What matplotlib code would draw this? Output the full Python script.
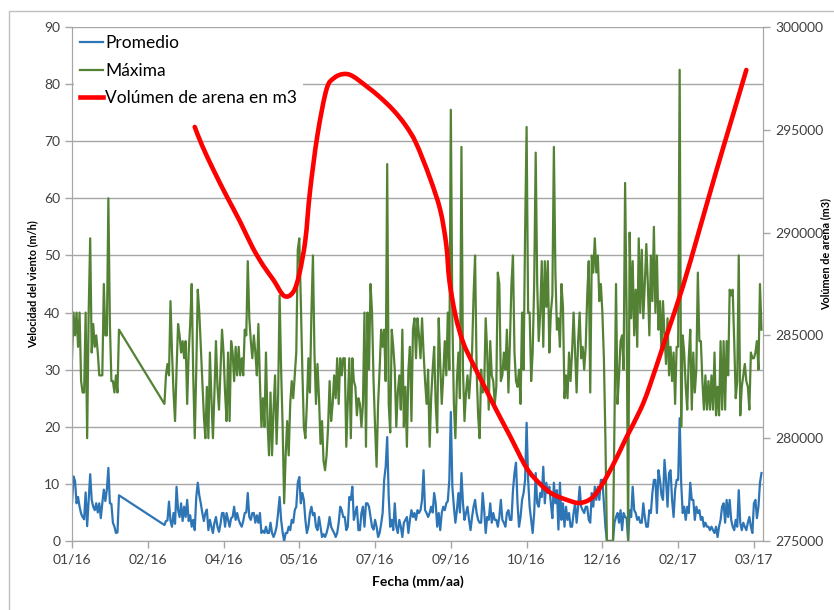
import matplotlib
matplotlib.use("Agg")
import matplotlib.pyplot as plt
import matplotlib.dates as mdates
from matplotlib.patches import Rectangle, PathPatch
from matplotlib.path import Path
from matplotlib.lines import Line2D
import numpy as np
import pandas as pd

plt.rcParams['font.family'] = ['Lato', 'DejaVu Sans']

inicio = pd.Timestamp('2016-01-01')

# days since 2016-01-01 with measurements (gap in February)
dias_1 = np.arange(0, 32)
dias_2 = np.arange(61, 456)

promedio_1 = [6.6, 11.3, 10.5, 6.6, 7.7, 6.0, 4.8, 4.2, 3.8, 8.5, 2.6, 7.0, 11.7, 7.2, 6.0, 5.4,
              6.6, 5.0, 6.6, 4.0, 6.6, 9.0, 7.0, 9.0, 12.8, 6.6, 6.5, 3.2, 2.5, 1.4, 1.5, 8.0]
maxima_1 = [32, 40, 36, 40, 34, 40, 28, 26, 26, 40, 18, 40, 53, 33, 38, 34,
            36, 33, 29, 29, 29, 45, 36, 36, 60, 38, 28, 28, 26, 29, 26, 37]

promedio_2 = (
    [2.8, 3.5, 3.6, 6.9, 3.5, 2.5, 4.9, 3.0, 9.5] +
    [5.4, 4.2, 6.6, 3.5, 6.0, 4.2, 7.2, 3.5, 4.5, 2.5] +
    [3.7, 1.9, 7.7, 10.2, 8.0, 6.6, 4.9, 3.5, 4.9, 5.5] +
    [1.9, 3.7, 2.5, 1.4, 3.2, 4.2, 2.5, 1.6, 3.0, 4.9] +
    [4.9, 2.5, 4.9, 3.7, 2.5, 4.0, 4.2, 6.0, 3.7, 4.9] +
    [3.7, 3.0, 2.5, 3.5, 4.9, 5.0, 8.4, 4.2, 3.7, 4.9] +
    [4.9, 3.2, 4.5, 3.2, 4.9, 1.4, 1.8, 1.4, 2.5, 1.4] +
    [1.4, 3.2, 1.4, 0.7, 1.4, 2.5, 4.9, 7.7, 3.7, 1.5] +
    [0.0, 1.4, 1.4, 2.5, 1.9, 3.7, 3.2, 5.4, 6.0, 10.2] +
    [11.2, 6.6, 8.4, 7.2, 3.7, 1.4, 2.5, 4.9, 6.0, 4.5] +
    [4.9, 2.5, 1.9, 4.2, 2.5, 0.7, 1.2, 0.7, 1.4, 2.5] +
    [4.2, 2.5, 1.9, 1.4, 0.7, 1.4, 3.2, 6.0, 5.4, 4.2] +
    [4.2, 1.9, 2.5, 7.7, 7.2, 9.5, 3.7, 4.9, 6.0, 1.9] +
    [1.9, 4.9, 6.0, 2.5, 6.6, 6.6, 6.0, 4.2, 2.5, 2.0] +
    [3.7, 2.5, 0.7, 1.4, 3.0, 4.9, 10.7, 13.0, 18.2, 7.7] +
    [2.5, 3.7, 1.9, 6.6, 2.5, 1.4, 3.7, 2.5, 0.7, 3.2] +
    [3.7, 4.2, 1.4, 3.7, 5.4, 4.2, 4.9, 3.7, 5.4, 4.9] +
    [5.4, 7.2, 12.4, 5.4, 4.9, 4.2, 4.9, 6.0, 5.0, 8.4] +
    [6.6, 2.5, 4.9, 1.9, 4.9, 6.0, 5.4, 6.6, 7.0, 10.7] +
    [22.6, 9.5, 6.0, 3.2, 5.4, 8.4, 5.0, 11.9, 6.6, 3.7] +
    [4.9, 6.0, 3.7, 1.9, 4.2, 6.0, 7.2, 4.9, 3.7, 3.2] +
    [3.2, 8.4, 5.4, 1.4, 4.2, 3.7, 6.6, 3.2, 4.9, 3.7] +
    [3.7, 2.5, 4.2, 7.2, 3.7, 3.2, 2.5, 4.9, 5.4, 3.7] +
    [3.7, 8.9, 11.9, 13.7, 6.6, 2.5, 4.2, 7.2, 8.4, 10.7] +
    [20.7, 10.7, 6.0, 3.7, 1.4, 4.9, 11.9, 6.6, 6.0, 8.4] +
    [7.7, 13.0, 6.6, 10.2, 8.4, 9.5, 6.6, 4.0, 10.2, 6.6] +
    [8.9, 2.0, 10.2, 3.7, 6.6, 2.5, 6.0, 3.7, 4.9, 2.5] +
    [2.5, 4.9, 6.6, 3.2, 6.0, 9.5, 6.0, 5.4, 4.9, 6.0] +
    [6.0, 3.7, 3.2, 8.4, 6.0, 9.5, 7.2, 9.5, 7.2, 10.7] +
    [10.7, 6.6, 2.5, 0.0, 0.0, 0.0, 0.0, 0.0, 3.2, 4.2] +
    [4.9, 3.2, 5.4, 1.9, 4.9, 4.2, 4.0, 0.0, 5.4, 4.2] +
    [9.5, 5.4, 4.9, 3.7, 4.2, 3.2, 3.2, 6.6, 4.2, 2.5] +
    [2.5, 5.4, 4.9, 8.4, 10.7, 10.7, 4.9, 12.4, 10.7, 8.0] +
    [7.2, 14.2, 10.7, 6.0, 11.9, 12.4, 7.2, 4.2, 8.9, 10.7] +
    [10.7, 21.5, 10.2, 4.9, 6.0, 3.7, 6.0, 4.9, 10.2, 7.2] +
    [7.2, 3.7, 6.0, 4.9, 5.4, 3.7, 4.2, 2.5, 3.2, 2.5] +
    [2.5, 1.9, 2.5, 1.9, 1.4, 2.5, 0.7, 2.5, 3.7, 6.0] +
    [6.6, 3.2, 7.2, 4.2, 7.2, 3.7, 2.5, 1.9, 3.7, 2.5] +
    [8.9, 3.2, 1.9, 3.2, 2.5, 1.9, 3.2, 4.2, 2.5, 1.4] +
    [6.6, 7.2, 4.0, 6.0, 10.2, 11.9]
)

maxima_2 = (
    [24, 29, 31, 29, 42, 33, 26, 21, 30] +
    [38, 36, 33, 35, 32, 35, 24, 33, 38, 45] +
    [29, 18, 30, 44, 40, 34, 28, 22, 18, 27] +
    [18, 33, 25, 18, 26, 35, 27, 23, 30, 37] +
    [33, 26, 21, 33, 21, 35, 33, 28, 34, 29] +
    [34, 29, 32, 29, 37, 36, 49, 39, 35, 32] +
    [36, 33, 29, 38, 28, 20, 25, 20, 33, 21] +
    [15, 26, 15, 23, 29, 17, 25, 43, 30, 20] +
    [6.6, 15, 21, 15, 24, 28, 25, 29, 33, 51] +
    [53, 42, 30, 20, 18, 24, 32, 26, 40, 50] +
    [33, 24, 31, 25, 17, 21, 14, 12.4, 15, 20] +
    [28, 21, 24, 29, 25, 32, 24, 32, 29, 32] +
    [32, 16.5, 24, 32, 18, 32, 28, 27, 22, 25] +
    [24, 20, 24, 40, 16.5, 40, 30, 45, 40, 28] +
    [20, 13, 24, 30, 37, 34, 37, 28, 66, 24] +
    [19, 37, 34, 30, 20, 26, 29, 23, 37, 20] +
    [27, 16.5, 30, 34, 21, 37, 39, 32, 39, 36] +
    [32, 39, 33, 28, 24, 30, 16.5, 25, 30, 34] +
    [24, 19, 39, 31, 24, 29, 35, 29, 40, 30] +
    [75.5, 39, 24, 18, 28, 33, 25, 69, 30, 21] +
    [26, 29, 25, 29, 33, 43, 50, 30, 22, 18] +
    [30, 26, 27, 39, 33, 23, 35, 29, 28, 24] +
    [27, 47, 45, 28, 29, 33, 30, 37, 26, 35] +
    [45, 50, 33, 28, 27, 30, 24, 40, 30, 54] +
    [72.5, 40, 40, 28, 33, 45, 68, 45, 35, 40] +
    [49, 34, 49, 41, 49, 33, 40, 43, 69, 47] +
    [37, 39, 34, 45, 41, 25, 29, 25, 33, 28] +
    [33, 40, 33, 26, 35, 40, 32, 34, 30, 34] +
    [43, 49, 26, 50, 47, 53, 47, 50, 42, 45] +
    [40, 32, 18, 0, 0, 0, 0, 0, 21, 45] +
    [24, 29, 35, 36, 30, 62.7, 40, 0, 54, 39] +
    [49, 36, 44, 34, 53, 40, 51, 39, 45, 52] +
    [45, 36, 50, 42, 55, 40, 50, 37, 42, 33] +
    [42, 36, 31, 39, 29, 34, 28, 33, 24, 34] +
    [34, 82.5, 20, 36, 33, 27, 23, 32, 37, 23] +
    [33, 26, 30, 47, 35, 35, 28, 23, 29, 23] +
    [28, 23, 29, 23, 33, 22, 27, 22, 35, 23] +
    [35, 23, 35, 29, 44, 43, 44, 35, 25, 28] +
    [50, 22, 27, 29, 31, 28, 27, 23, 33, 32] +
    [32, 33, 35, 30, 45, 37]
)

# sand volume curve (m3)
dias_arena = [81, 86, 94, 102, 111, 119, 126, 133, 140, 146, 150, 154, 157, 162, 168, 173,
              179, 185, 195, 203, 212, 220, 227, 236, 243, 247, 249, 253, 258, 264, 272, 280,
              289, 300, 309, 317, 327, 335, 343, 350, 358, 366, 375, 381, 392, 403, 414, 425,
              435, 445]
volumen_arena = [295140, 294210, 292950, 291780, 290520, 289300, 288420, 287690, 286920,
                 287110, 287990, 289640, 291970, 294750, 296980, 297520, 297710, 297620,
                 297080, 296600, 295960, 295230, 294360, 292700, 291100, 289400, 287690,
                 285990, 284680, 283710, 282540, 281370, 280110, 278550, 277770, 277290,
                 276990, 276850, 277090, 277770, 278840, 280060, 281370, 282490, 284920,
                 287350, 290130, 292950, 295430, 297910]

dias = np.concatenate([dias_1, dias_2])
fechas = inicio + pd.to_timedelta(dias, unit='D')
promedio = promedio_1 + promedio_2
maxima = maxima_1 + maxima_2
fechas_arena = inicio + pd.to_timedelta(dias_arena, unit='D')

azul = '#2e75b6'
verde = '#548235'
rojo = '#ff0000'
gris = '#a6a6a6'
texto = '#404040'


def linea_suavizada(x, y):
    # smoothed line like Excel's: cubic Bezier segments through every point
    p = np.column_stack([x, y])
    n = len(p)
    verts = [p[0]]
    codes = [Path.MOVETO]
    for i in range(n - 1):
        a = p[max(i - 1, 0)]
        b = p[i]
        c = p[i + 1]
        d = p[min(i + 2, n - 1)]
        verts += [b + (c - a) / 6, c - (d - b) / 6, c]
        codes += [Path.CURVE4] * 3
    return Path(verts, codes)


fig = plt.figure(figsize=(8.34, 6.10), dpi=100)
fig.patches.append(Rectangle((9 / 834, -0.1), 2, 1.1 - 11 / 610, transform=fig.transFigure,
                             fill=False, edgecolor='#bfbfbf', linewidth=1))
ax = fig.add_axes([72 / 834, 69 / 610, 691 / 834, 514 / 610])
ax2 = ax.twinx()

l1, = ax.plot(fechas, promedio, color=azul, lw=1.6, label='Promedio')
l2, = ax.plot(fechas, maxima, color=verde, lw=1.6, label='Máxima')

ax.set_xlim(inicio, inicio + pd.Timedelta(days=456))
ax.set_ylim(0, 90)
ax.set_yticks(np.arange(0, 91, 10))
ax2.set_ylim(275000, 300000)
ax2.set_yticks(np.arange(275000, 300001, 5000))

camino = linea_suavizada(mdates.date2num(fechas_arena), np.array(volumen_arena, dtype=float))
ax2.add_patch(PathPatch(camino, fill=False, edgecolor=rojo, lw=3.3,
                        joinstyle='round', capstyle='round'))
l3 = Line2D([], [], color=rojo, lw=3.3, label='Volúmen de arena en m3')

ticks = [inicio + pd.Timedelta(days=50 * i) for i in range(10)]
ax.set_xticks(ticks)
ax.xaxis.set_major_formatter(mdates.DateFormatter('%m/%y'))

ax.grid(axis='y', color=gris, lw=1)
ax.set_axisbelow(True)
for a in (ax, ax2):
    for s in a.spines.values():
        s.set_color(gris)
    a.spines['top'].set_visible(False)
    a.tick_params(colors=gris, labelcolor=texto, labelsize=10, length=5, width=1)
ax.tick_params(axis='x', pad=4)
ax2.tick_params(axis='y', pad=4)

ax.set_xlabel('Fecha (mm/aa)', fontsize=10, fontweight='bold', color='black', labelpad=7)
ax.set_ylabel('Velocidad del viento (m/h)', fontsize=7.8, fontweight='bold', color='black',
              labelpad=4)
fig.text(826 / 834, 1 - 254 / 610, 'Volúmen de arena (m3)', rotation=90, fontsize=7.8,
         fontweight='bold', ha='center', va='center')

leg = ax2.legend(handles=[l1, l2, l3], loc='upper left', bbox_to_anchor=(0.0, 1.0),
                 fontsize=12.5, frameon=True, framealpha=1, edgecolor='none', fancybox=False,
                 handlelength=1.3, handletextpad=0.15, labelspacing=0.67, borderpad=0.35,
                 borderaxespad=0.12)
for t in leg.get_texts():
    t.set_color('black')

fig.savefig('out.png', dpi=100)
